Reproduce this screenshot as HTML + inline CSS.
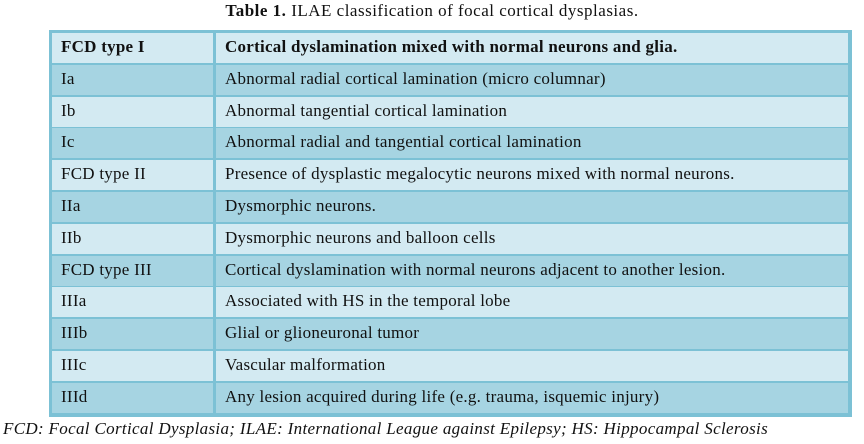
<!DOCTYPE html>
<html><head><style>
body{margin:0;width:864px;height:444px;background:#fff;position:relative;overflow:hidden;font-family:"Liberation Serif",serif;}
.cap{position:absolute;top:1px;left:0;width:864px;text-align:center;font-size:17px;letter-spacing:0.5px;color:#111;}
.tb{position:absolute;left:49px;top:30px;width:803px;height:387px;background:#7cc1d5;}
.c{position:absolute;font-size:17px;letter-spacing:0.25px;color:#111;box-sizing:border-box;padding-left:9px;line-height:28px;white-space:nowrap;}
.foot{position:absolute;left:3px;top:419px;font-size:17px;letter-spacing:0.33px;font-style:italic;color:#111;white-space:nowrap;}
</style></head><body>
<div class="cap"><b>Table 1.</b> ILAE classification of focal cortical dysplasias.</div>
<div class="tb" id="t"></div>
<div class="foot">FCD: Focal Cortical Dysplasia; ILAE: International League against Epilepsy; HS: Hippocampal Sclerosis</div>
<script>
var rows=[["FCD type I","Cortical dyslamination mixed with normal neurons and glia."],["Ia","Abnormal radial cortical lamination (micro columnar)"],["Ib","Abnormal tangential cortical lamination"],["Ic","Abnormal radial and tangential cortical lamination"],["FCD type II","Presence of dysplastic megalocytic neurons mixed with normal neurons."],["IIa","Dysmorphic neurons."],["IIb","Dysmorphic neurons and balloon cells"],["FCD type III","Cortical dyslamination with normal neurons adjacent to another lesion."],["IIIa","Associated with HS in the temporal lobe"],["IIIb","Glial or glioneuronal tumor"],["IIIc","Vascular malformation"],["IIId","Any lesion acquired during life (e.g. trauma, isquemic injury)"]];
var t=document.getElementById('t'),h='';
rows.forEach(function(r,i){var top=3+i*31.8,hh=30,bg=i%2?'#a6d4e2':'#d3eaf2';
var fw=i==0?'font-weight:bold;':'';
h+='<div class="c" style="left:3px;top:'+top+'px;width:161px;height:'+hh+'px;background:'+bg+';'+fw+'">'+r[0]+'</div>';
h+='<div class="c" style="left:167px;top:'+top+'px;width:632px;height:'+hh+'px;background:'+bg+';'+fw+'">'+r[1]+'</div>';});
t.innerHTML=h;
</script>
</body></html>
